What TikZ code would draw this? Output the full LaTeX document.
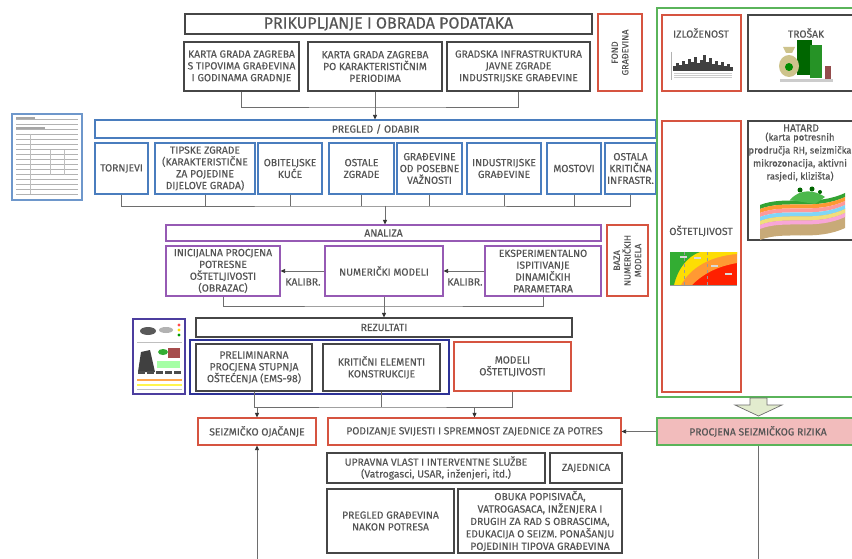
\documentclass[tikz,border=0pt]{standalone}
\usepackage{fontspec}
\setmainfont{Fira Sans}[FakeBold=0.35]
\usetikzlibrary{arrows.meta}
\definecolor{redc}{RGB}{214,84,64}
\definecolor{bluec}{RGB}{74,125,190}
\definecolor{purplec}{RGB}{150,90,180}
\definecolor{navyc}{RGB}{45,50,150}
\definecolor{greenc}{RGB}{90,180,90}
\definecolor{pinkc}{RGB}{242,188,188}
\definecolor{grayc}{RGB}{70,70,70}
\definecolor{txt}{RGB}{85,85,85}
\definecolor{linec}{RGB}{110,110,110}
\definecolor{bagc}{RGB}{205,195,140}
\definecolor{soilc}{RGB}{200,170,120}
\definecolor{blockc}{RGB}{226,236,206}
\newcommand{\bx}[7]{%
  \pgfmathsetmacro\bxcx{(#3+#5)/2}\pgfmathsetmacro\bxcy{(#4+#6)/2}%
  \pgfmathsetmacro\bxw{#5-#3}\pgfmathsetmacro\bxh{#6-#4}%
  \node[#1, minimum width=\bxw pt, minimum height=\bxh pt] (#2) at (\bxcx,\bxcy) {#7};}
\begin{document}
\begin{tikzpicture}[x=1pt,y=-1pt,
  base/.style={draw, line width=1.1pt, inner sep=0pt, align=center, text=txt,
    font=\fontsize{10.3}{11.8}\selectfont},
  graybox/.style={base, draw=grayc},
  redbox/.style={base, draw=redc},
  bluebox/.style={base, draw=bluec},
  purplebox/.style={base, draw=purplec},
  lbl/.style={inner sep=0pt, align=center, text=txt, font=\fontsize{10.3}{11.8}\selectfont},
  rotlbl/.style={lbl, rotate=90, font=\fontsize{9}{10.6}\selectfont},
  ln/.style={draw=linec, line width=0.8pt},
  arr/.style={draw=linec, line width=0.8pt, -{Triangle[length=4.5pt,width=4pt,color=black!80]}},
]
\useasboundingbox (0,0) rectangle (852,559);
\clip (0,0) rectangle (852,559);
\fill[white] (0,0) rectangle (852,559);

% ---------- top ----------
\bx{graybox, font=\fontsize{16}{18}\selectfont}{title}{185}{14}{592}{34}{PRIKUPLJANJE I OBRADA PODATAKA}
\bx{redbox}{fond}{598}{14}{642}{91}{}
\node[rotlbl] (fondtxt) at (fond.center) {FOND\\GRAĐEVINA};
\bx{graybox}{b1}{184}{42}{299}{91}{KARTA GRADA ZAGREBA\\S TIPOVIMA GRAĐEVINA\\I GODINAMA GRADNJE}
\bx{graybox}{b2}{308}{42}{442}{91}{KARTA GRADA ZAGREBA\\PO KARAKTERISTIČNIM\\PERIODIMA}
\bx{graybox}{b3}{447}{42}{590}{91}{GRADSKA INFRASTRUKTURA\\JAVNE ZGRADE\\INDUSTRIJSKE GRAĐEVINE}

% ---------- pregled ----------
\bx{bluebox}{pregled}{95}{120}{656}{138}{PREGLED / ODABIR}
\bx{bluebox}{c1}{95}{143}{148}{194}{TORNJEVI}
\bx{bluebox}{c2}{155}{143}{255}{194}{TIPSKE ZGRADE\\(KARAKTERISTIČNE\\ZA POJEDINE\\DIJELOVE GRADA)}
\bx{bluebox}{c3}{258}{143}{322}{194}{OBITELJSKE\\KUĆE}
\bx{bluebox}{c4}{329}{143}{394}{194}{OSTALE\\ZGRADE}
\bx{bluebox}{c5}{397}{143}{462}{194}{GRAĐEVINE\\OD POSEBNE\\VAŽNOSTI}
\bx{bluebox}{c6}{467}{143}{541}{194}{INDUSTRIJSKE\\GRAĐEVINE}
\bx{bluebox}{c7}{547}{143}{601}{194}{MOSTOVI}
\bx{bluebox}{c8}{605}{143}{656}{194}{OSTALA\\KRITIČNA\\INFRASTR.}

% ---------- analiza ----------
\bx{purplebox}{analiza}{166}{225}{601}{241}{ANALIZA}
\bx{redbox}{baza}{607}{225}{648}{296}{}
\node[rotlbl] (bazatxt) at (baza.center) {BAZA\\NUMERIČKIH\\MODELA};
\bx{purplebox}{inic}{166}{246}{280}{296}{INICIJALNA PROCJENA\\POTRESNE\\OŠTETLJIVOSTI\\(OBRAZAC)}
\bx{purplebox}{num}{325}{246}{443}{296}{NUMERIČKI MODELI}
\bx{purplebox}{eksp}{485}{246}{601}{296}{EKSPERIMENTALNO\\ISPITIVANJE\\DINAMIČKIH\\PARAMETARA}
\node[lbl] (k1) at (303,282) {KALIBR.};
\node[lbl] (k2) at (465,282) {KALIBR.};

% ---------- rezultati ----------
\bx{graybox}{rez}{196}{318}{572}{337}{REZULTATI}
\bx{draw=navyc, line width=2pt, inner sep=0pt}{navy}{190}{340}{449}{394}{}
\bx{graybox}{prelim}{196}{344}{312}{391}{PRELIMINARNA\\PROCJENA STUPNJA\\OŠTEĆENJA (EMS-98)}
\bx{graybox}{krit}{323}{344}{440}{391}{KRITIČNI ELEMENTI\\KONSTRUKCIJE}
\bx{redbox}{modeli}{454}{342}{571}{391}{MODELI\\OŠTETLJIVOSTI}

\bx{redbox}{ojac}{198}{418}{316}{445}{SEIZMIČKO OJAČANJE}
\bx{redbox}{podiz}{328}{418}{621}{445}{PODIZANJE SVIJESTI I SPREMNOST ZAJEDNICE ZA POTRES}

% ---------- bottom ----------
\bx{graybox}{upr}{327}{453}{545}{483}{UPRAVNA VLAST I INTERVENTNE SLUŽBE\\(Vatrogasci, USAR, inženjeri, itd.)}
\bx{graybox}{zaj}{550}{453}{622}{483}{ZAJEDNICA}
\bx{graybox}{pregp}{327}{489}{454}{553}{PREGLED GRAĐEVINA\\NAKON POTRESA}
\bx{graybox, font=\fontsize{10.3}{12.4}\selectfont}{obuka}{458}{489}{622}{553}{OBUKA POPISIVAČA,\\VATROGASACA, INŽENJERA I\\DRUGIH ZA RAD S OBRASCIMA,\\EDUKACIJA O SEIZM. PONAŠANJU\\POJEDINIH TIPOVA GRAĐEVINA}

% ---------- right panel ----------
\bx{draw=greenc, line width=2pt, inner sep=0pt}{risko}{657}{8}{870}{397}{}
\bx{redbox}{izl}{662}{15}{741}{91}{}
\bx{graybox}{tro}{748}{15}{866}{91}{}
\bx{redbox}{ost}{662}{121}{741}{392}{}
\bx{graybox}{haz}{748}{121}{866}{240}{}
\node[lbl] (izltxt) at (701,33) {IZLOŽENOST};
\node[lbl] (trotxt) at (806,33) {TROŠAK};
\node[lbl] (osttxt) at (701,231) {OŠTETLJIVOST};
\node[lbl] (haztitle) at (801,128) {HATARD};
\node[lbl, font=\fontsize{9.5}{13}\selectfont] (haztxt) at (800,157) {(karta potresnih\\prodručja RH, seizmička\\mikrozonacija, aktivni\\rasjedi, klizišta)};

\bx{base, draw=greenc, line width=2pt, fill=pinkc}{risk}{657}{418}{859}{445}{PROCJENA SEIZMIČKOG RIZIKA}

% block arrow
\draw[draw=linec, fill=blockc, line width=0.7pt]
  (750,398) -- (767,398) -- (767,405) -- (782,405) -- (758.5,416) -- (735,405) -- (750,405) -- cycle;

% ---------- connectors ----------
\coordinate (j1) at (375,107);
\draw[ln] (b1.south) |- (j1) -| (b3.south);
\draw[arr] (b2.south) -- (b2.south |- pregled.north);

\coordinate (j2) at (385,206);
\draw[ln] (c1.south) |- (j2) -| (c8.south);
\foreach \n in {c2,c3,c4,c5,c6,c7} \draw[ln] (\n.south) -- (\n.south |- j2);
\draw[arr] (j2) -- (j2 |- analiza.north);

\draw[arr] (num.west) -- (inic.east);
\draw[arr] (eksp.west) -- (num.east);
\coordinate (j3) at (384,306);
\draw[ln] (inic.south) |- (j3) -| (eksp.south);
\draw[arr] (num.south) -- (num.south |- rez.north);

\coordinate (j4) at (382,407);
\draw[ln] (prelim.south) |- (j4) -| (modeli.south);
\draw[ln] (krit.south) -- (krit.south |- j4);
\draw[arr] (ojac.north |- j4) -- (ojac.north);
\draw[arr] (podiz.north |- j4) -- (podiz.north);

\draw[arr] (risk.west) -- (podiz.east);
\coordinate (bot) at (258,575);
\draw[arr] (ojac.south |- bot) -- (ojac.south);
\draw[ln] (risk.south) -- (risk.south |- bot);

% ---------- pictures ----------
% form thumbnail
\draw[bluec!80, line width=1.2pt, fill=white] (12,114) rectangle (82,200);
\foreach \y in {119,124,129,134,139,144,149,154,159,164,169,174,179,184,189,194}
  \draw[black!30, line width=0.4pt] (16,\y) -- (78,\y);
\draw[black!25, line width=0.4pt] (30,134) -- (30,194) (50,150) -- (50,175) (64,150) -- (64,175);
\fill[black!35] (16,117) rectangle (35,119);
\fill[black!35] (16,127) rectangle (45,129);

% result thumbnail
\draw[navyc!70!purplec, line width=1.2pt, fill=white] (133,319) rectangle (185,394);
\fill[black!65] (148,331) ellipse (8 and 4);
\fill[black!30] (166,330) ellipse (7 and 3);
\fill[red!70] (179,325) circle (1.6);
\fill[yellow!80!orange] (179,330) circle (1.6);
\fill[green!60!black] (179,335) circle (1.6);
\fill[black!75] (138,372) -- (141,352) -- (150,350) -- (155,372) -- cycle;
\fill[green!60!black!80] (163,352) ellipse (5 and 3);
\fill[red!50!black!70] (168,348) rectangle (180,358);
\fill[green!35] (157,361) rectangle (180,368);
\foreach \x in {138,147,156,165,174} \fill[black!70] (\x,374) rectangle ++(7,-3);
\fill[orange!70] (137,379) rectangle (182,381);
\fill[yellow!70] (137,384) rectangle (182,386);
\draw[black!25, line width=0.4pt] (137,342) -- (182,342) (137,389) -- (182,389);

% skyline
\foreach \x/\h in {673/5,676/8,679/6,682/10,685/7,688/12,691/9,694/14,697/8,700/11,703/16,706/9,709/13,712/7,715/10,718/6,721/9,724/5,727/7,730/4}
  \fill[black!75] (\x,71) rectangle ++(3,-\h);
\draw[black!30, line width=0.4pt] (671,52) -- (671,80);
\foreach \y in {73,75,77} \draw[black!20, line width=0.6pt] (674,\y) -- (732,\y);

% money
\fill[green!40!black] (797,40) rectangle (812,75);
\fill[green!50!black!85] (810,45) rectangle (822,78);
\fill[black!60!green] (800,44) rectangle (808,46);
\fill[bagc] (789,66) ellipse (10 and 11);
\fill[bagc] (786,53) -- (792,53) -- (795,47) -- (783,47) -- cycle;
\fill[green!55!black] (789,67) circle (4);
\fill[red!40!black!70] (825,66) rectangle (831,79);
\fill[black!20] (780,79) rectangle (833,82);

% fragility chart
\fill[red!75!orange] (670,252) rectangle (737,285);
\fill[orange!80] (670,285) -- (692,285) .. controls (705,272) and (720,266) .. (737,263) -- (737,252) -- (670,252) -- cycle;
\fill[yellow!80!orange] (670,285) -- (681,285) .. controls (690,268) and (710,256) .. (737,254) -- (737,252) -- (670,252) -- cycle;
\fill[green!60!black!80] (670,285) -- (674,285) .. controls (678,268) and (688,256) .. (700,252) -- (670,252) -- cycle;
\draw[black!40, dashed, line width=0.4pt] (684,252) -- (684,287) (707,252) -- (707,287);
\draw[black!40, line width=0.4pt] (670,285) -- (737,285);
\foreach \x/\y in {680/258,694/259,711/267,725/275} \fill[black!15] (\x,\y) rectangle ++(7,-2);

% geology
\fill[soilc] (760,220) .. controls (785,210) and (815,222) .. (845,208) -- (845,228) .. controls (815,242) and (785,230) .. (760,240) -- cycle;
\foreach \o/\c in {0/green!55!black!80,4/orange!80,8/red!40,12/cyan!50,16/yellow!60!brown!60,20/magenta!35}
  \fill[\c] (760,205+\o) .. controls (785,195+\o) and (815,207+\o) .. (845,193+\o) -- (845,197+\o) .. controls (815,211+\o) and (785,199+\o) .. (760,209+\o) -- cycle;
\fill[green!60!black!70] (790,200) .. controls (800,188) and (815,190) .. (825,197) -- (815,204) -- cycle;
\fill[green!40!black] (800,190) circle (2.5) (812,189) circle (2.5) (820,192) circle (2);
\end{tikzpicture}
\end{document}
